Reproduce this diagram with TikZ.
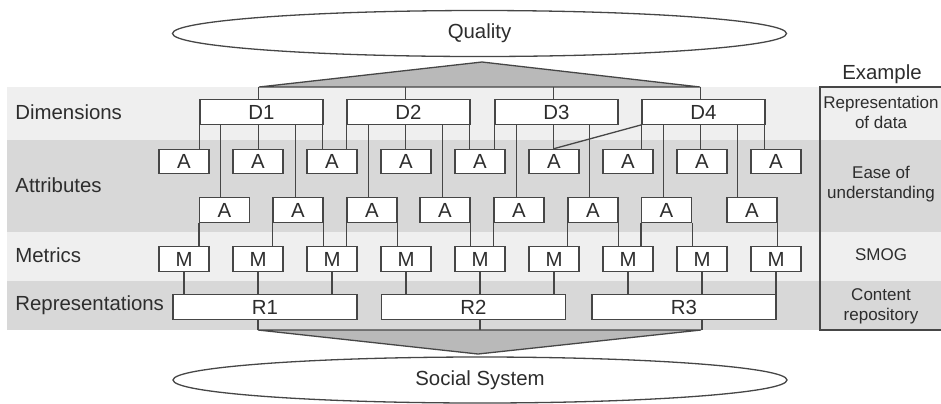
\documentclass[tikz,border=0pt]{standalone}
\usepackage{fontspec}
\setmainfont{Liberation Sans}
\usepackage{tikz}
\usetikzlibrary{positioning, calc, shapes.geometric}
\usepackage{xcolor}
\definecolor{linegray}{RGB}{70,70,70}
\definecolor{textgray}{RGB}{45,45,45}
\definecolor{bandlight}{RGB}{239,239,239}
\definecolor{banddark}{RGB}{216,216,216}
\definecolor{wedgegray}{RGB}{185,185,185}

\tikzset{
  box/.style={draw=linegray, fill=white, line width=0.65pt, inner sep=0pt, minimum height=12.2pt},
  dimbox/.style={box, minimum width=61.5pt},
  attbox/.style={box, minimum width=25pt},
  repbox/.style={box, minimum width=92pt},
  oval/.style={ellipse, draw=linegray, fill=white, line width=0.65pt, inner sep=0pt, minimum width=307pt, minimum height=23pt},
  layer/.style={anchor=west, inner sep=0pt},
  exlabel/.style={align=center, font=\fontsize{8.5}{10}\selectfont},
  link/.style={draw=linegray, line width=0.65pt},
}

\begin{document}
\begin{tikzpicture}[x=0.5pt, y=-0.5pt, font=\fontsize{10.2}{12}\selectfont, text=textgray]
  \useasboundingbox (0,0) rectangle (941,403);
  % layer bands
  \fill[bandlight] (7,87) rectangle (941,140);
  \fill[banddark] (7,140) rectangle (941,232);
  \fill[bandlight] (7,232) rectangle (941,281);
  \fill[banddark] (7,281) rectangle (941,330);

  \node[layer] (ldim) at (15,112) {Dimensions};
  \node[layer] (latt) at (15,185) {Attributes};
  \node[layer] (lmet) at (15,255) {Metrics};
  \node[layer] (lrep) at (15,305) {Representations};

  % wedges
  \coordinate (qtip) at (482,62);
  \coordinate (qleft) at (259,87);
  \coordinate (qright) at (700,87);
  \coordinate (stip) at (478,354);
  \coordinate (sleft) at (258,330);
  \coordinate (sright) at (701,330);
  \filldraw[fill=wedgegray, link] (qleft) -- (qtip) -- (qright) -- cycle;
  \filldraw[fill=wedgegray, link] (sleft) -- (stip) -- (sright) -- cycle;

  \node[oval] (quality) at (479.5,33.5) {Quality};
  \node[oval] (social) at (480,380) {Social System};

  % boxes
  \foreach \i/\x in {1/261.5, 2/408.5, 3/556.5, 4/703.5}
    \node[dimbox] (D\i) at (\x,112) {D\i};
  \foreach \i in {1,...,9} {
    \node[attbox] (tA\i) at ({184+74*(\i-1)},161.5) {A};
    \node[attbox] (M\i) at ({184+74*(\i-1)},259) {M};
  }
  \foreach \i/\x in {1/224.5, 2/298, 3/372, 4/445, 5/519, 6/593, 7/666.5, 8/752}
    \node[attbox] (lA\i) at (\x,210) {A};
  \foreach \i/\x in {1/265, 2/473.5, 3/684}
    \node[repbox] (R\i) at (\x,307) {R\i};

  % links
  \foreach \i in {1,...,4}
    \draw[link] ([xshift=29.5pt]D\i.north west) -- ([xshift=29.5pt]D\i.north west |- qleft);
  \foreach \d/\dx/\t in {1/0/tA1, 1/10.5/lA1, 1/29.5/tA2, 1/48/lA2, 1/61.5/tA3,
                         2/0/tA3, 2/11/lA3, 2/29.5/tA4, 2/48/lA4, 2/61.5/tA5,
                         3/0/tA5, 3/11/lA5, 3/29.5/tA6, 3/47.5/lA6,
                         4/0/tA7, 4/11/lA7, 4/29.5/tA8, 4/48/lA8, 4/61.5/tA9}
    \draw[link] ([xshift=\dx pt]D\d.south west) -- ([xshift=\dx pt]D\d.south west |- \t.north);
  \draw[link] (D4.south west) -- (tA6.north);
  \foreach \a/\side/\m in {1/west/1, 2/west/2, 2/east/3, 3/west/3, 3/east/4, 4/east/5,
                           5/west/5, 6/west/6, 6/east/7, 7/west/7, 7/east/8, 8/east/9}
    \draw[link] (lA\a.south \side) -- (lA\a.south \side |- M\m.north);
  \foreach \m/\r in {1/1, 2/1, 3/1, 4/2, 5/2, 6/2, 7/3, 8/3, 9/3}
    \draw[link] (M\m.south) -- (M\m.south |- R\r.north);
  \foreach \m/\r in {2/1, 5/2, 8/3}
    \draw[link] (M\m.south |- R\r.south) -- (M\m.south |- sleft);

  % example column
  \draw[link] (950,87) -- (820,87) -- (820,330) -- (950,330);
  \node (exhead) at (882,74) {Example};
  \node[exlabel] (ex1) at (881,112) {Representation\\of data};
  \node[exlabel] (ex2) at (881,184) {Ease of\\understanding};
  \node[exlabel] (ex3) at (881,255) {SMOG};
  \node[exlabel] (ex4) at (881,306) {Content\\repository};
\end{tikzpicture}
\end{document}
